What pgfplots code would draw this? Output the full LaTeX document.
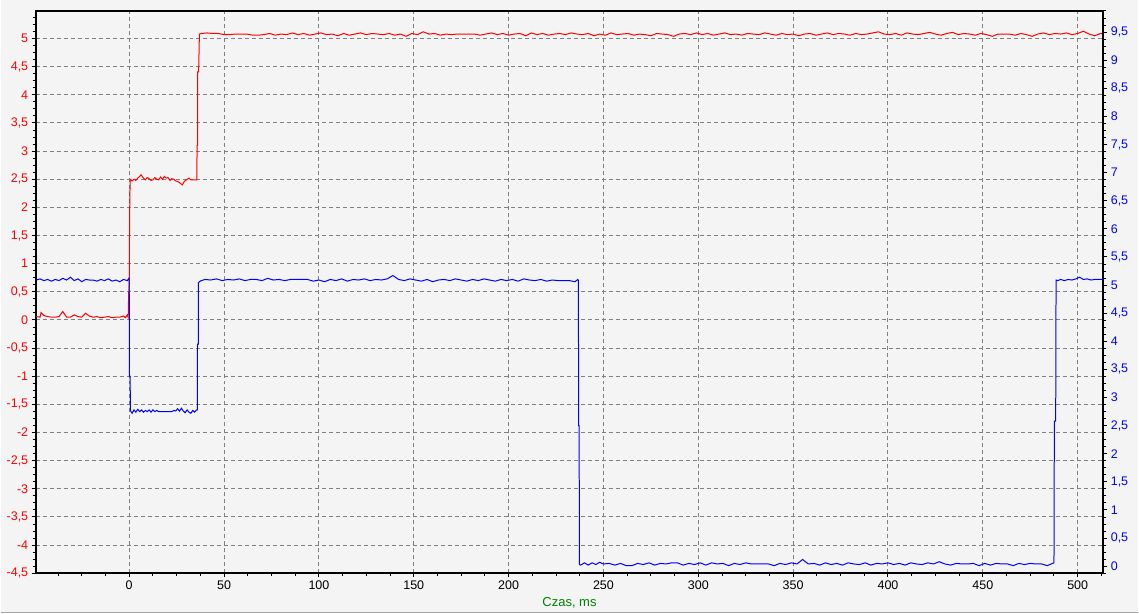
\documentclass[border=0pt]{standalone}
\usepackage{pgfplots}
\pgfplotsset{compat=1.18}
\usepackage{fontspec}
\setmainfont{Liberation Sans}
\definecolor{bg}{HTML}{F4F4F4}
\definecolor{gridgray}{HTML}{808080}
\definecolor{labgreen}{HTML}{008000}

\pgfplotsset{
  scopebase/.style={
    at={(35pt,40pt)}, anchor=south west,
    scale only axis, width=1069pt, height=563pt,
    xmin=-49.3, xmax=513.5,
    tick align=outside,
    major tick length=4pt, minor tick length=3pt,
    every tick/.style={black, line width=1pt},
    axis line style={black, line width=2pt},
    /pgf/number format/use comma,
    /pgf/number format/assume math mode=true,
    tick label style={font=\fontsize{12.5}{14}\selectfont},
  }
}

\begin{document}
\begin{tikzpicture}
\fill[bg] (0,0) rectangle (1139pt,614pt);
\draw[black!35, line width=1.5pt] (0,0.75pt) -- (1139pt,0.75pt);
\useasboundingbox (0,0) rectangle (1139pt,614pt);

% left axis: red series
\begin{axis}[scopebase,
    ymin=-4.5, ymax=5.49,
    xtick={0,50,...,500},
    minor xtick={-37.5,-25,...,512.5},
    ytick={-4.5,-4,...,5},
    minor ytick={-4.375,-4.25,...,5.4},
    xtick pos=bottom, ytick pos=left,
    grid=major,
    grid style={gridgray, dash pattern=on 4pt off 3pt, line width=1pt},
    yticklabel style={red},
    xlabel={Czas, ms},
    xlabel style={at={(axis description cs:0.5,0)}, anchor=center, yshift=-30pt,
                  labgreen, font=\fontsize{13}{15}\selectfont},
]
\addplot[red, line width=1pt] coordinates {
(-49,0.06)(-47,0.05)(-46.5,0.13)(-45,0.08)(-43,0.06)(-41,0.05)(-39,0.05)(-37,0.06)
(-35,0.15)(-33,0.05)(-31,0.05)(-29,0.09)(-27,0.06)(-25,0.05)(-23,0.12)(-21,0.07)
(-19,0.05)(-17,0.06)(-15,0.04)(-13,0.05)(-11,0.06)(-9,0.04)(-7,0.05)(-5,0.05)
(-3,0.07)(-2,0.04)(-1,0.09)(-0.6,0.05)
(-0.5,0.1)(-0.3,0.49)(0,0.5)(0.2,1.85)(0.5,2.5)
(0.6,2.50)(1.5,2.47)(2.5,2.50)(3.5,2.48)(4.5,2.52)(5.5,2.55)(6.2,2.58)(7.5,2.52)
(8.5,2.49)(9.5,2.53)(10.5,2.51)(11.5,2.48)(12.5,2.49)(13.5,2.53)(14.5,2.50)(15.5,2.49)
(16.5,2.54)(17.5,2.50)(18.5,2.55)(19.5,2.52)(20.5,2.53)(21.5,2.48)(22.5,2.51)(23.5,2.50)
(24.5,2.47)(25.5,2.46)(26.5,2.44)(28,2.40)(29,2.46)(30.5,2.50)(31.5,2.52)(32.5,2.49)
(33.5,2.49)(34.5,2.49)(35.6,2.49)
(35.8,3.1)(36.0,3.1)(36.1,4.41)(36.6,4.41)(37.0,5.08)
(38,5.09)(41,5.10)(44,5.09)(47,5.09)(50,5.07)(53,5.07)(56,5.08)(59,5.08)(62,5.08)
(65,5.06)(68,5.06)(71,5.07)(74,5.09)(77,5.06)(80,5.08)(83,5.07)(86,5.10)(89,5.07)
(92,5.09)(95,5.06)(98,5.08)(101,5.10)(104,5.07)(107,5.08)(110,5.05)(113,5.09)(116,5.06)
(119,5.08)(122,5.10)(125,5.07)(128,5.09)(131,5.08)(134,5.07)(137,5.09)(140,5.06)(143,5.08)
(146,5.04)(149,5.09)(152,5.07)(155,5.12)(158,5.08)(161,5.09)(164,5.06)(167,5.08)(170,5.07)
(173,5.08)(176,5.08)(179,5.08)(182,5.08)(185,5.06)(188,5.08)(191,5.10)(194,5.07)(197,5.09)
(200,5.06)(203,5.08)(206,5.09)(209,5.05)(212,5.10)(215,5.07)(218,5.09)(221,5.06)(224,5.08)
(227,5.09)(230,5.07)(233,5.10)(236,5.08)(239,5.07)(242,5.09)(245,5.05)(248,5.08)(251,5.06)
(254,5.10)(257,5.07)(260,5.08)(263,5.09)(266,5.06)(269,5.08)(272,5.07)(275,5.05)(278,5.09)
(281,5.08)(284,5.07)(287,5.04)(290,5.08)(293,5.09)(296,5.07)(299,5.10)(302,5.07)(305,5.09)
(308,5.06)(311,5.08)(314,5.10)(317,5.07)(320,5.08)(323,5.06)(326,5.09)(329,5.08)(332,5.07)
(335,5.10)(338,5.08)(341,5.06)(344,5.09)(347,5.07)(350,5.08)(353,5.05)(356,5.08)(359,5.09)
(362,5.06)(365,5.08)(368,5.10)(371,5.07)(374,5.09)(377,5.08)(380,5.06)(383,5.09)(386,5.07)
(389,5.08)(392,5.10)(395,5.12)(398,5.08)(401,5.07)(404,5.09)(407,5.06)(410,5.10)(413,5.08)
(416,5.07)(419,5.09)(422,5.11)(425,5.08)(428,5.06)(431,5.09)(434,5.11)(437,5.07)(440,5.09)
(443,5.08)(446,5.06)(449,5.09)(452,5.07)(455,5.04)(458,5.08)(461,5.08)(464,5.08)(467,5.06)
(470,5.09)(473,5.07)(476,5.04)(479,5.08)(482,5.10)(485,5.07)(488,5.09)(491,5.08)(494,5.10)
(497,5.07)(500,5.09)(503,5.13)(506,5.08)(509,5.05)(512,5.09)(513.5,5.08)
};
\end{axis}

% right axis: blue series
\begin{axis}[scopebase,
    ymin=-0.125, ymax=9.875,
    axis x line=none,
    axis y line*=right,
    ytick={0,0.5,...,9.5},
    minor ytick={-0.125,0,...,9.875},
    yticklabel style={blue},
]
\addplot[blue, line width=1pt] coordinates {
(-49,5.09)(-47,5.11)(-45,5.08)(-43,5.10)(-41,5.07)(-39,5.10)(-37,5.08)(-35,5.12)
(-33,5.09)(-31,5.14)(-29,5.08)(-27,5.11)(-25,5.06)(-23,5.10)(-21,5.09)(-19,5.09)
(-17,5.07)(-15,5.10)(-13,5.08)(-11,5.11)(-9,5.07)(-7,5.09)(-5,5.06)(-3,5.10)
(-1,5.08)(-0.2,5.12)(0,5.10)
(0.1,3.38)(0.5,3.38)(0.6,2.77)
(1.5,2.72)(2.5,2.78)(3.5,2.74)(4.5,2.79)(5.5,2.75)(6.5,2.78)(7.5,2.74)(8.5,2.77)
(9.5,2.75)(10.5,2.78)(11.5,2.74)(12.5,2.78)(13.5,2.75)(14.5,2.77)(15.5,2.75)(16.5,2.75)
(22.5,2.75)(23.5,2.77)(24.5,2.76)(25.5,2.80)(26.5,2.76)(27.5,2.81)(28.5,2.76)(29.5,2.73)
(30.5,2.78)(31.5,2.74)(32.5,2.72)(33.5,2.77)(34.5,2.74)(35.5,2.78)(35.9,2.78)
(36.0,3.95)(36.4,3.95)(36.5,5.04)
(37,5.06)(38,5.08)(40,5.10)(43,5.09)(46,5.11)(49,5.08)(52,5.10)(55,5.09)(58,5.11)
(61,5.08)(64,5.10)(67,5.10)(70,5.08)(73,5.12)(76,5.09)(79,5.10)(82,5.08)(85,5.10)
(88,5.10)(91,5.10)(94,5.10)(97,5.07)(100,5.09)(103,5.06)(106,5.10)(109,5.08)(112,5.11)
(115,5.07)(118,5.10)(121,5.09)(124,5.11)(127,5.08)(130,5.10)(133,5.09)(136,5.11)(139,5.17)
(142,5.10)(145,5.08)(148,5.11)(151,5.09)(154,5.07)(157,5.10)(160,5.06)(163,5.09)(166,5.10)
(169,5.08)(172,5.11)(175,5.09)(178,5.07)(181,5.10)(184,5.08)(187,5.11)(190,5.09)(193,5.07)
(196,5.10)(199,5.08)(202,5.10)(205,5.07)(208,5.11)(211,5.09)(214,5.08)(217,5.10)(220,5.07)
(223,5.09)(226,5.08)(229,5.08)(232,5.08)(235,5.06)(236.5,5.10)(236.8,5.08)
(236.9,2.5)(237.2,2.5)(237.3,0.03)
(238,0.02)(240,0.06)(242,0.02)(244,0.06)(246,0.03)(248,0.07)(250,0.04)(253,0.05)
(256,0.02)(259,0.05)(262,0.01)(265,0.01)(268,0.05)(271,0.03)(274,0.06)(277,0.02)
(280,0.05)(283,0.04)(286,0.06)(289,0.06)(292,0.02)(295,0.05)(298,0.03)(301,0.06)
(304,0.02)(307,0.06)(310,0.04)(313,0.05)(316,0.01)(319,0.05)(322,0.03)(325,0.06)
(328,0.04)(331,0.04)(334,0.04)(337,0.04)(340,0.01)(343,0.05)(346,0.03)(349,0.06)
(352,0.04)(355,0.12)(358,0.04)(361,0.05)(364,0.02)(367,0.06)(370,0.03)(373,0.05)
(376,0.02)(379,0.06)(382,0.04)(385,0.03)(388,0.06)(391,0.02)(394,0.05)(397,0.04)
(400,0.06)(403,0.03)(406,0.05)(409,0.02)(412,0.06)(415,0.04)(418,0.03)(421,0.06)
(424,0.04)(427,0.08)(430,0.04)(433,0.02)(436,0.05)(439,0.04)(442,0.04)(445,0.05)
(448,0.01)(451,0.05)(454,0.02)(457,0.05)(460,0.04)(463,0.04)(466,0.01)(469,0.05)
(472,0.03)(475,0.05)(478,0.04)(481,0.04)(484,0.01)(486,0.04)(487.5,0.06)
(487.7,2.58)(488.4,2.58)(488.6,5.09)
(489.5,5.08)(491,5.10)(493,5.08)(495,5.10)(497,5.09)(499,5.11)(501,5.14)(503,5.10)
(505,5.11)(507,5.09)(509,5.10)(511,5.10)(513.5,5.10)
};
\end{axis}
\end{tikzpicture}
\end{document}
